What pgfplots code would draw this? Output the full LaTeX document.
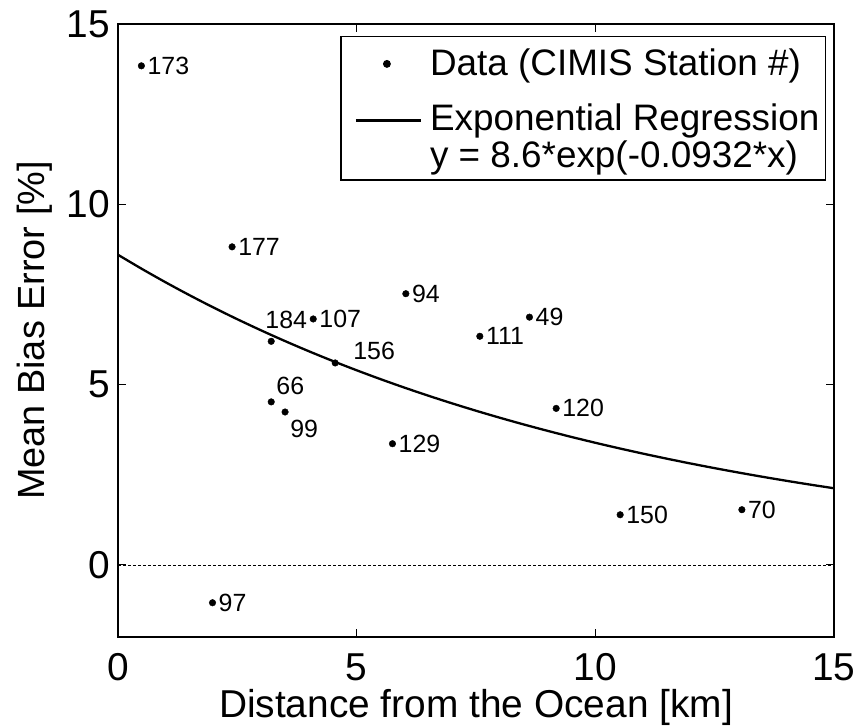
\documentclass[border=0pt]{standalone}
\usepackage{pgfplots}
\pgfplotsset{compat=1.18}
\usepackage{pgfplotstable}
\usepackage{fontspec}
\setmainfont{Liberation Sans}

\pgfplotsset{
  dotlegend/.style={legend image code/.code={\path[draw=none,fill=none] (0bp,-12bp) rectangle (74bp,12bp); \draw[##1] plot coordinates {(40bp,8.2bp)};}},
  linelegend/.style={legend image code/.code={\path[draw=none,fill=none] (0bp,-12bp) rectangle (74bp,12bp); \draw[##1] (9bp,0bp) -- (74bp,0bp);}},
}

\pgfplotstableread{
x y lbl dx dy
0.49 13.84 173 6 0
2.39 8.82 177 6 0
6.03 7.52 94 6 0
3.21 6.20 184 -6 21.7
4.09 6.82 107 6 0
4.55 5.60 156 18 11.6
7.58 6.34 111 6 0
8.62 6.87 49 6 0
3.21 4.52 66 5 15.6
3.50 4.24 99 5 -16.7
5.75 3.36 129 6 0
9.18 4.34 120 6 0
1.98 -1.05 97 6 0
10.52 1.39 150 6 0
13.07 1.53 70 6 0
}\datatable

\pgfplotstableread{
x y
0 8.6000
0.5 8.2084
1 7.8347
1.5 7.4780
2 7.1375
2.5 6.8125
3 6.5023
3.5 6.2063
4 5.9237
4.5 5.6540
5 5.3966
5.5 5.1509
6 4.9163
6.5 4.6925
7 4.4788
7.5 4.2749
8 4.0803
8.5 3.8945
9 3.7172
9.5 3.5479
10 3.3864
10.5 3.2322
11 3.0850
11.5 2.9445
12 2.8105
12.5 2.6825
13 2.5604
13.5 2.4438
14 2.3325
14.5 2.2263
15 2.1250
}\fittable

\begin{document}
\begin{tikzpicture}
\begin{axis}[
  scale only axis,
  width=716bp, height=613bp,
  xmin=0, xmax=15, ymin=-2, ymax=15,
  xtick={0,5,10,15}, ytick={0,5,10,15},
  tick align=inside,
  major tick length=8bp,
  axis line style={line width=1.2bp, black},
  tick style={line width=0.8bp, black},
  /pgf/number format/assume math mode=true,
  ticklabel style={font=\fontsize{39}{42}\selectfont, inner sep=0pt},
  yticklabel style={anchor=east, xshift=-8bp},
  xticklabel style={anchor=base, yshift=-43bp},
  xlabel={Distance from the Ocean [km]},
  ylabel={Mean Bias Error [\%]},
  label style={inner sep=0pt},
  xlabel style={font=\fontsize{39}{44}\selectfont, at={([yshift=-80bp]axis description cs:0.5,0)}, anchor=base},
  ylabel style={font=\fontsize{38}{42}\selectfont, at={([xshift=-73bp]axis description cs:0,0.5)}, anchor=base},
  legend style={
    at={([xshift=-8bp,yshift=-12bp]axis description cs:1,1)},
    anchor=north east,
    font=\fontsize{37}{40}\selectfont,
    draw=black, line width=1.2bp,
    inner xsep=6bp, inner ysep=5bp,
    row sep=0pt,
    nodes={inner sep=0pt, text depth=},
    column sep=8bp,
  },
  legend cell align=left,
  legend columns=1,
]
\addplot[black, dashed, line width=0.6bp, dash pattern=on 3bp off 2bp, forget plot] coordinates {(0,0) (15,0)};
\addplot[
  only marks, mark=*, mark size=3.3bp, black,
  point meta=explicit symbolic,
  nodes near coords,
  visualization depends on={\thisrow{dx} \as \dx},
  visualization depends on={\thisrow{dy} \as \dy},
  nodes near coords style={font=\fontsize{25}{28}\selectfont, inner sep=0pt, anchor=west, xshift=\dx bp, yshift=\dy bp, black},
  dotlegend,
] table[x=x, y=y, meta=lbl] {\datatable};
\addlegendentry{\rule[-27bp]{0pt}{61bp}Data (CIMIS Station \#)}
\addplot[black, line width=2.3bp, no marks, smooth, linelegend] table[x=x, y=y] {\fittable};
\addlegendentry{\rule[-8bp]{0pt}{36bp}Exponential Regression}
\addlegendimage{empty legend}
\addlegendentry{\rule[-7.3bp]{0pt}{36bp}y = 8.6*exp(-0.0932*x)}
\end{axis}
\path ([xshift=-118bp,yshift=-89bp]current axis.south west) rectangle ([xshift=25bp,yshift=24bp]current axis.north east);
\end{tikzpicture}
\end{document}
